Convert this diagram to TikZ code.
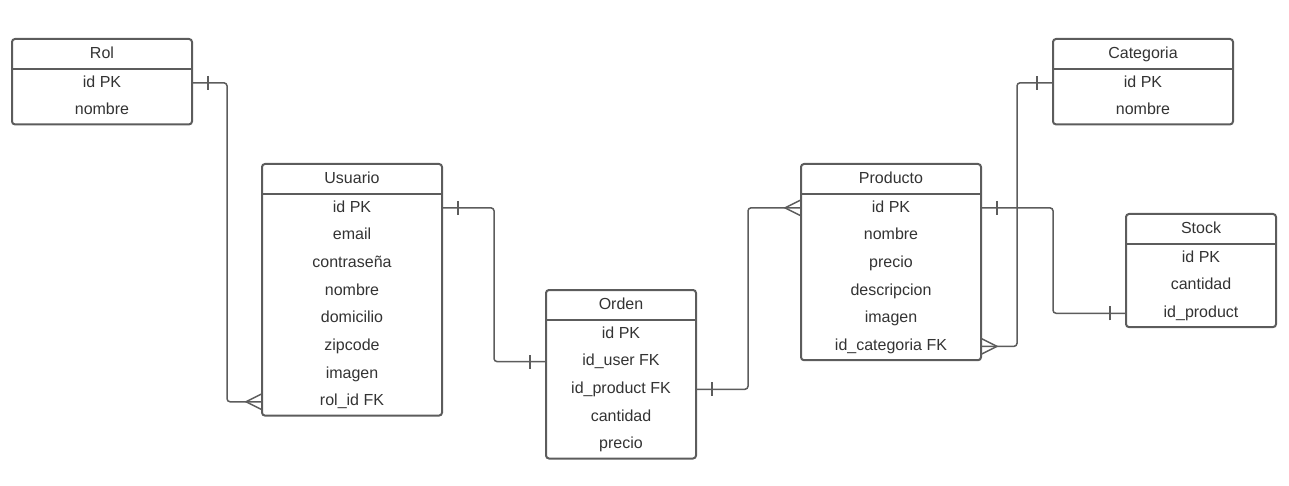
\documentclass[tikz,border=0pt]{standalone}
\usepackage{fontspec}
\setmainfont{Liberation Sans}
\usetikzlibrary{positioning}
\definecolor{linea}{RGB}{92,92,92}
\definecolor{texto}{RGB}{51,51,51}
\tikzset{node distance=0pt,
  titulo/.style={minimum width=#1, minimum height=15pt, inner sep=0pt, outer sep=0pt,
    text height=6pt, text depth=1.8pt, text=texto, font=\fontsize{8}{10}\selectfont},
  titulo/.default=90pt,
  fila/.style={minimum width=#1, minimum height=13.85pt, inner sep=0pt, outer sep=0pt,
    text height=6pt, text depth=1.8pt, text=texto, font=\fontsize{8}{10}\selectfont},
  fila/.default=90pt,
  tabla/.style={draw=linea, line width=1pt, rounded corners=1.5pt},
  rel/.style={draw=linea, line width=0.75pt},
  uno/.pic={\draw[rel] (16,-7) -- (16,7);},
  muchos/.pic={\draw[rel] (0,-8) -- (16,0) -- (0,8);}
}
\begin{document}
\begin{tikzpicture}[x=0.5pt, y=-0.5pt]
\useasboundingbox (0,0) rectangle (1289,486);

\node (rol) [titulo, anchor=north west] at (12,39) {Rol};
\node (rol1) [fila, below=of rol] {id PK};
\node (rol2) [fila, below=of rol1] {nombre};
\draw[tabla] (rol.north west) rectangle (rol2.south east);
\draw[tabla] (rol.south west) -- (rol.south east);

\node (usu) [titulo, anchor=north west] at (262,164) {Usuario};
\node (usu1) [fila, below=of usu] {id PK};
\node (usu2) [fila, below=of usu1] {email};
\node (usu3) [fila, below=of usu2] {contraseña};
\node (usu4) [fila, below=of usu3] {nombre};
\node (usu5) [fila, below=of usu4] {domicilio};
\node (usu6) [fila, below=of usu5] {zipcode};
\node (usu7) [fila, below=of usu6] {imagen};
\node (usu8) [fila, below=of usu7] {rol\_id FK};
\draw[tabla] (usu.north west) rectangle (usu8.south east);
\draw[tabla] (usu.south west) -- (usu.south east);

\node (ord) [titulo=75pt, anchor=north west] at (546,290) {Orden};
\node (ord1) [fila=75pt, below=of ord] {id PK};
\node (ord2) [fila=75pt, below=of ord1] {id\_user FK};
\node (ord3) [fila=75pt, below=of ord2] {id\_product FK};
\node (ord4) [fila=75pt, below=of ord3] {cantidad};
\node (ord5) [fila=75pt, below=of ord4] {precio};
\draw[tabla] (ord.north west) rectangle (ord5.south east);
\draw[tabla] (ord.south west) -- (ord.south east);

\node (pro) [titulo, anchor=north west] at (801,164) {Producto};
\node (pro1) [fila, below=of pro] {id PK};
\node (pro2) [fila, below=of pro1] {nombre};
\node (pro3) [fila, below=of pro2] {precio};
\node (pro4) [fila, below=of pro3] {descripcion};
\node (pro5) [fila, below=of pro4] {imagen};
\node (pro6) [fila, below=of pro5] {id\_categoria FK};
\draw[tabla] (pro.north west) rectangle (pro6.south east);
\draw[tabla] (pro.south west) -- (pro.south east);

\node (cat) [titulo, anchor=north west] at (1053,39) {Categoria};
\node (cat1) [fila, below=of cat] {id PK};
\node (cat2) [fila, below=of cat1] {nombre};
\draw[tabla] (cat.north west) rectangle (cat2.south east);
\draw[tabla] (cat.south west) -- (cat.south east);

\node (sto) [titulo=75pt, anchor=north west] at (1126,214) {Stock};
\node (sto1) [fila=75pt, below=of sto] {id PK};
\node (sto2) [fila=75pt, below=of sto1] {cantidad};
\node (sto3) [fila=75pt, below=of sto2] {id\_product};
\draw[tabla] (sto.north west) rectangle (sto3.south east);
\draw[tabla] (sto.south west) -- (sto.south east);

\draw[rel, rounded corners=1.5pt] (rol1.east) -- ++(35,0) |- (usu8.west);
\pic at (rol1.east) {uno};
\pic[rotate=180] at (usu8.west) {muchos};

\draw[rel, rounded corners=1.5pt] (usu1.east) -- ++(52,0) |- (ord2.west);
\pic at (usu1.east) {uno};
\pic[rotate=180] at (ord2.west) {uno};

\draw[rel, rounded corners=1.5pt] (ord3.east) -- ++(52,0) |- (pro1.west);
\pic at (ord3.east) {uno};
\pic[rotate=180] at (pro1.west) {muchos};

\draw[rel, rounded corners=1.5pt] (pro6.east) -- ++(36,0) |- (cat1.west);
\pic at (pro6.east) {muchos};
\pic[rotate=180] at (cat1.west) {uno};

\draw[rel, rounded corners=1.5pt] (pro1.east) -- ++(72,0) |- (sto3.west);
\pic at (pro1.east) {uno};
\pic[rotate=180] at (sto3.west) {uno};
\end{tikzpicture}
\end{document}
